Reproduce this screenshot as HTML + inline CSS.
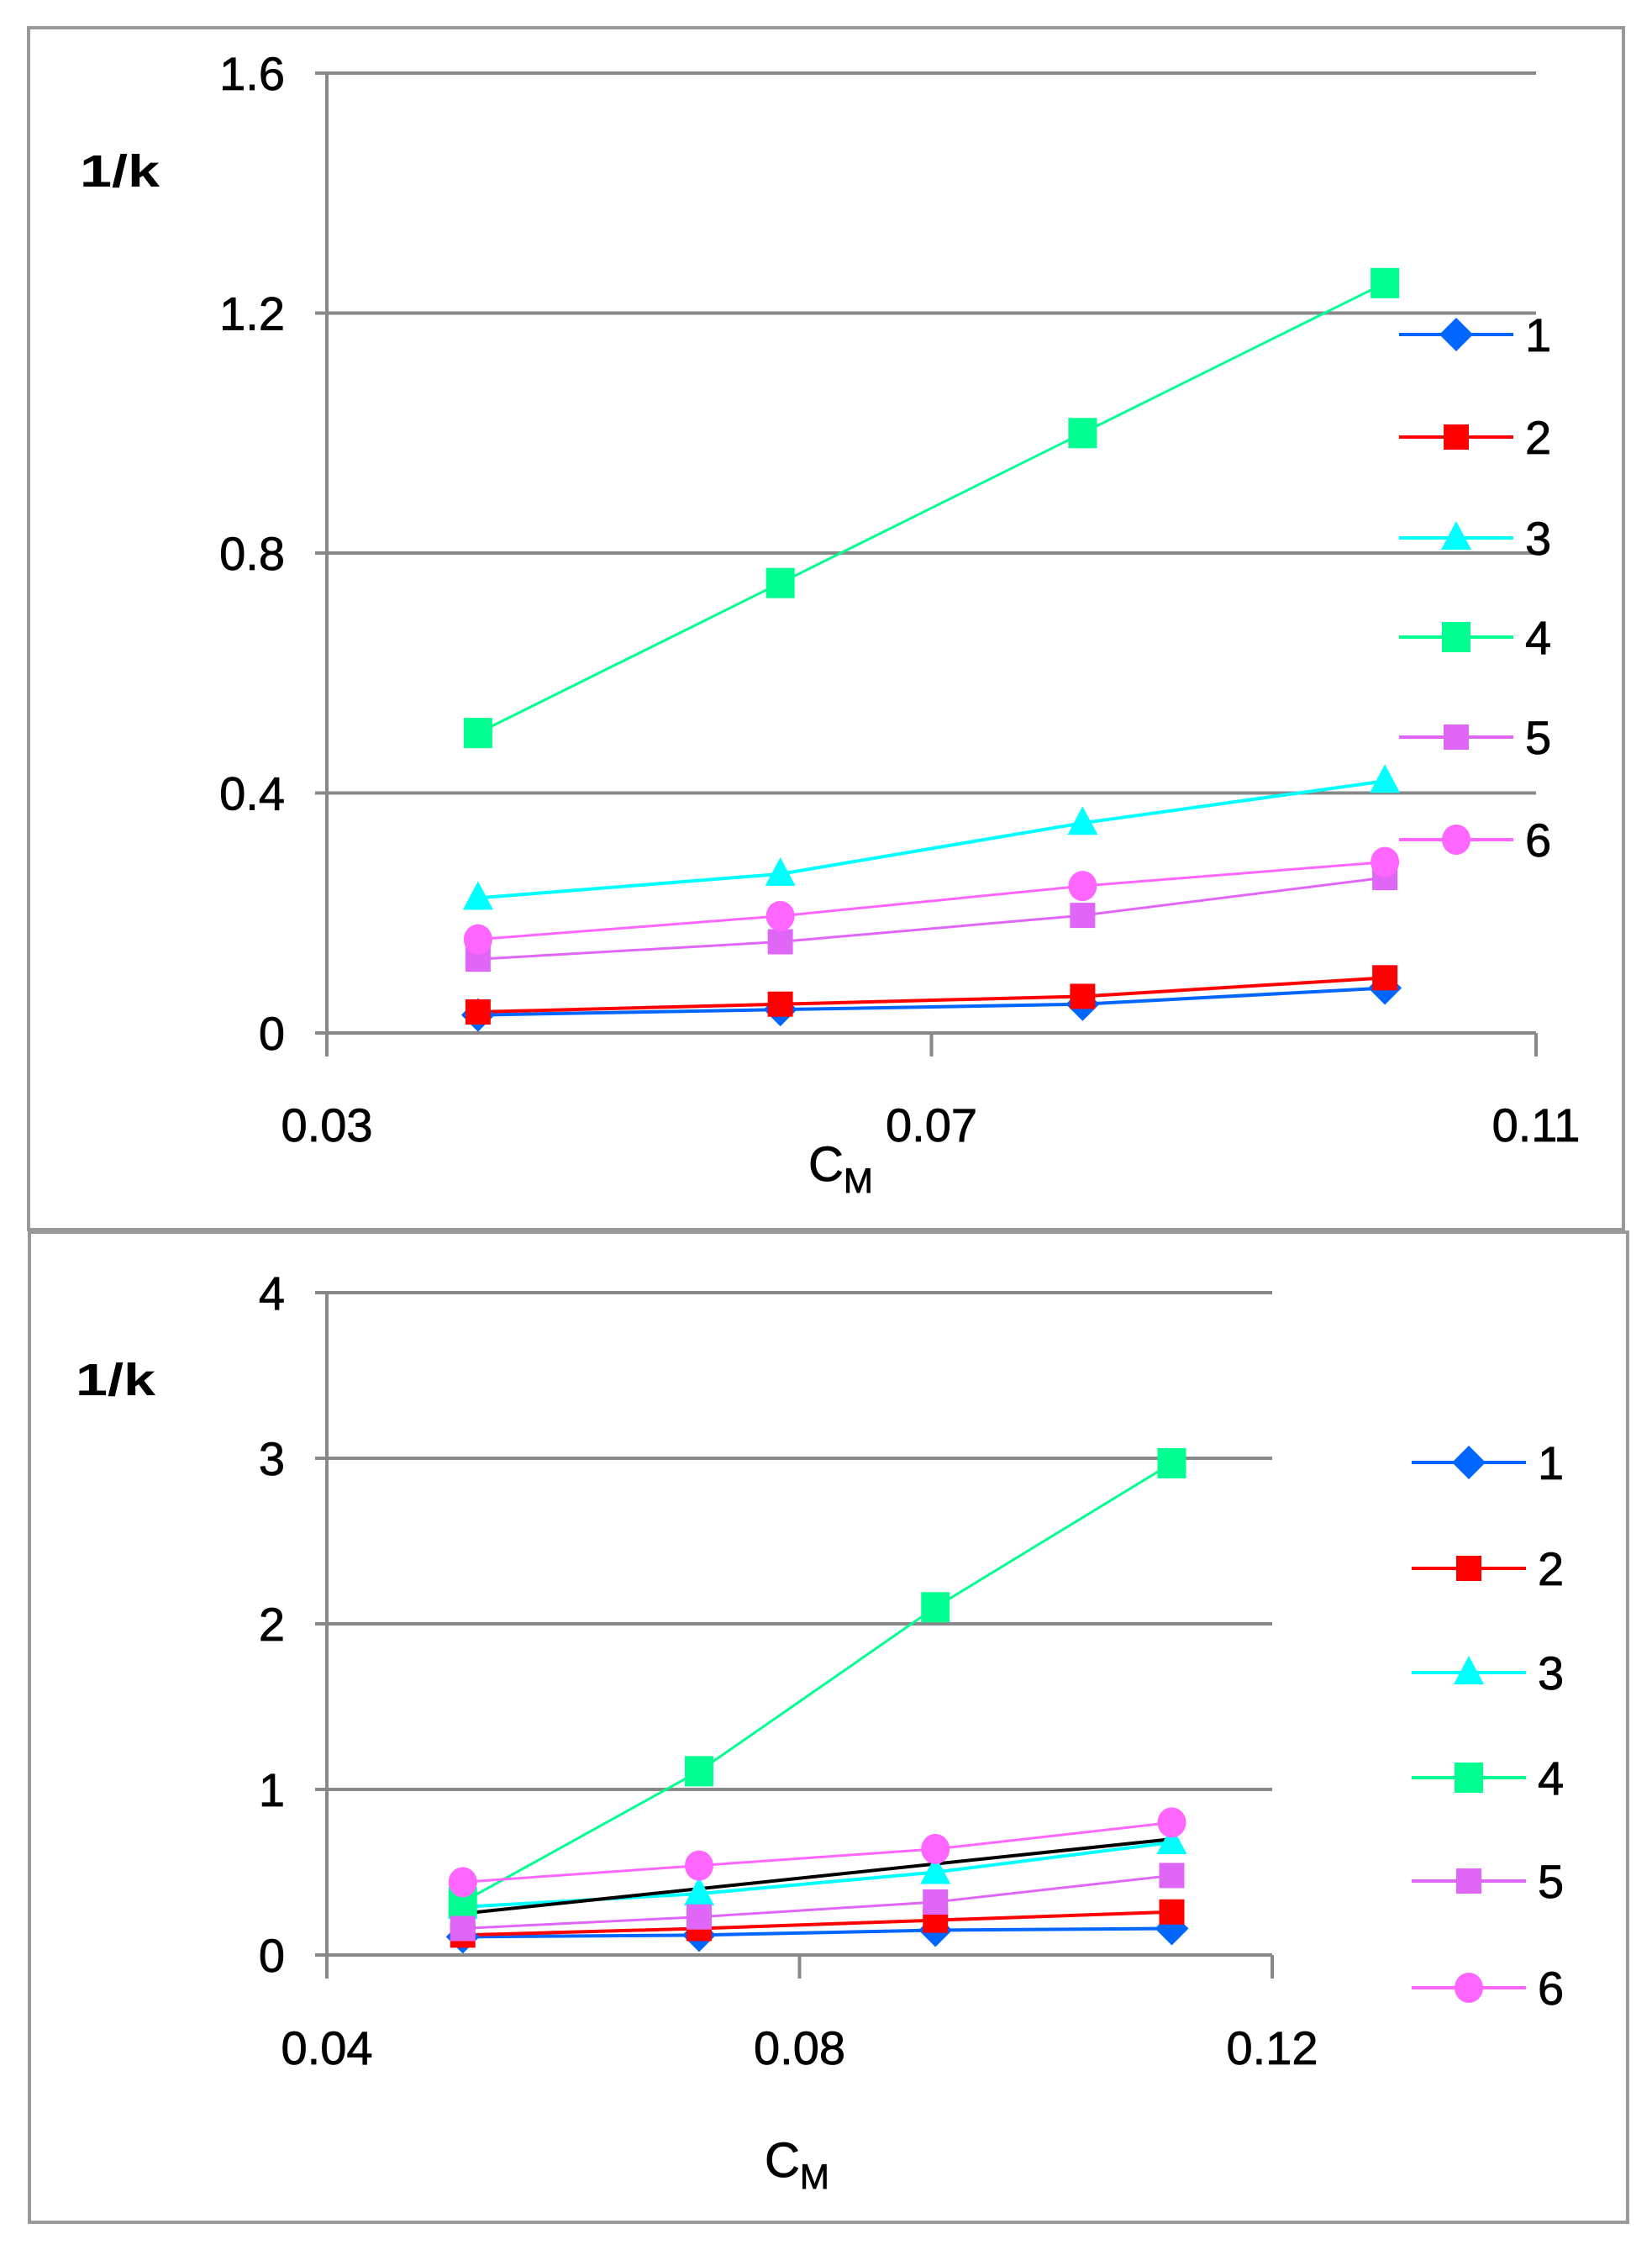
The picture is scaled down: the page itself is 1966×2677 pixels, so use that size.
<!DOCTYPE html>
<html><head><meta charset="utf-8">
<style>
html,body{margin:0;padding:0;background:#fff;}
svg{display:block;}
text{font-family:"Liberation Sans",sans-serif;fill:#000;}
</style></head>
<body>
<svg id="root" width="1966" height="2677" viewBox="0 0 1966 2677" xmlns="http://www.w3.org/2000/svg">
  <rect x="34" y="33" width="1898" height="1430" fill="#fff" stroke="#999" stroke-width="4"/>
  <rect x="35" y="1466" width="1902" height="1178" fill="#fff" stroke="#999" stroke-width="4"/>
  <g id="top"></g>
  <g id="bot"></g>
</svg>
<script>
// ---- Top chart data ----
const topX = [0.04, 0.06, 0.08, 0.10];
const topS1 = [0.030, 0.039, 0.048, 0.075];
const topS2 = [0.035, 0.048, 0.061, 0.092];
const topS3 = [0.225, 0.265, 0.350, 0.420];
const topS4 = [0.50, 0.75, 1.00, 1.25];
const topS5 = [0.123, 0.152, 0.196, 0.259];
const topS6 = [0.156, 0.195, 0.245, 0.285];
const topXTicks = [0.03, 0.07, 0.11];
const topXTickLabels = ["0.03", "0.07", "0.11"];
const topYTicks = [0, 0.4, 0.8, 1.2, 1.6];
const topYTickLabels = ["0", "0.4", "0.8", "1.2", "1.6"];
// ---- Bottom chart data ----
const botX = [0.0515, 0.0715, 0.0915, 0.1115];
const botS1 = [0.11, 0.12, 0.15, 0.16];
const botS2 = [0.12, 0.16, 0.21, 0.26];
const botS3 = [0.29, 0.37, 0.50, 0.68];
const botS4 = [0.32, 1.11, 2.10, 2.97];
const botS5 = [0.16, 0.23, 0.32, 0.48];
const botS6 = [0.44, 0.54, 0.64, 0.80];
const botTrend = [0.25, 0.70];
const botXTicks = [0.04, 0.08, 0.12];
const botXTickLabels = ["0.04", "0.08", "0.12"];
const botYTicks = [0, 1, 2, 3, 4];
const botYTickLabels = ["0", "1", "2", "3", "4"];
const seriesNames = ["1", "2", "3", "4", "5", "6"];

const NS = "http://www.w3.org/2000/svg";
function mk(tag, attrs, parent){
  const e = document.createElementNS(NS, tag);
  for (const k in attrs) e.setAttribute(k, attrs[k]);
  parent.appendChild(e);
  return e;
}
const styles = [
  {color:"#0066ff", marker:"diamond", w:4},
  {color:"#ff0000", marker:"square", w:4},
  {color:"#00ffff", marker:"triangle", w:4},
  {color:"#00ff90", marker:"bigsquare", w:3},
  {color:"#e066f8", marker:"square", w:3},
  {color:"#ff66ff", marker:"circle", w:3}
];
function marker(g, type, cx, cy, color){
  let m;
  if (type === "diamond") m = mk("polygon", {points:`${cx},${cy-20} ${cx+20},${cy} ${cx},${cy+20} ${cx-20},${cy}`, fill:color}, g);
  else if (type === "square") m = mk("rect", {x:cx-15, y:cy-15, width:30, height:30, fill:color}, g);
  else if (type === "bigsquare") m = mk("rect", {x:cx-17, y:cy-18, width:34, height:36, fill:color}, g);
  else if (type === "triangle") m = mk("polygon", {points:`${cx},${cy-20} ${cx+18},${cy+14} ${cx-18},${cy+14}`, fill:color}, g);
  else m = mk("ellipse", {cx:cx, cy:cy, rx:17, ry:18, fill:color}, g);
  return m;
}

function drawChart(cfg){
  const g = document.getElementById(cfg.id);
  const sx = v => cfg.x0 + (v - cfg.xmin) / (cfg.xmax - cfg.xmin) * (cfg.x1 - cfg.x0);
  const sy = v => cfg.y0 - (v - cfg.ymin) / (cfg.ymax - cfg.ymin) * (cfg.y0 - cfg.y1);
  cfg.yTicks.forEach((t, i) => {
    const y = sy(t);
    const gl = mk("line", {x1:cfg.x0-14, x2:cfg.x1, y1:y, y2:y, stroke:"#888", "stroke-width":4}, g);
    
    
    const tl = mk("text", {x:cfg.x0-50, y:y+20, "font-size":56, "text-anchor":"end", stroke:"#000", "stroke-width":0.8}, g);
    tl.textContent = cfg.yLabels[i];
    
    
  });
  const ya = mk("line", {x1:cfg.x0, x2:cfg.x0, y1:cfg.y1, y2:cfg.y0+28, stroke:"#888", "stroke-width":4}, g);
  
  
  cfg.xTicks.forEach((t, i) => {
    const x = sx(t);
    const tk = mk("line", {x1:x, x2:x, y1:cfg.y0, y2:cfg.y0+28, stroke:"#888", "stroke-width":4}, g);
    
    
    const tl = mk("text", {x:x, y:cfg.xLabelY, "font-size":56, "text-anchor":"middle", stroke:"#000", "stroke-width":0.8}, g);
    tl.textContent = cfg.xLabels[i];
    
    
  });
  const yt = mk("text", {x:cfg.yTitle[0], y:cfg.yTitle[1], "font-size":54, "font-weight":"bold", textLength:95, lengthAdjust:"spacingAndGlyphs"}, g);
  yt.textContent = "1/k";
  
  
  const xt = mk("text", {x:cfg.xTitle[0], y:cfg.xTitle[1], "font-size":58, stroke:"#000", "stroke-width":0.8}, g);
  
  
  const t1 = mk("tspan", {}, xt); t1.textContent = "C";
  const t2 = mk("tspan", {dy:14, "font-size":42}, xt); t2.textContent = "M";
  cfg.series.forEach((vals, si) => {
    const st = styles[si];
    const pts = vals.map((v, i) => `${sx(cfg.xs[i])},${sy(v)}`).join(" ");
    const pl = mk("polyline", {points:pts, fill:"none", stroke:st.color, "stroke-width":st.w}, g);
    
    
  });
  if (cfg.trend) {
    const tr = mk("line", {x1:sx(cfg.xs[0]), y1:sy(cfg.trend[0]), x2:sx(cfg.xs[cfg.xs.length-1]), y2:sy(cfg.trend[1]), stroke:"#000", "stroke-width":4}, g);
    
    
  }
  cfg.series.forEach((vals, si) => {
    const st = styles[si];
    vals.forEach((v, i) => {
      const m = marker(g, st.marker, sx(cfg.xs[i]), sy(v), st.color);
      
      
    });
  });
  cfg.legY.forEach((ly, si) => {
    const st = styles[si];
    const lg = mk("g", {}, g);
    
    
    mk("line", {x1:cfg.legX, x2:cfg.legX+136, y1:ly, y2:ly, stroke:st.color, "stroke-width":4}, lg);
    marker(lg, st.marker, cfg.legX+68, ly, st.color);
    const lt = mk("text", {x:cfg.legX+150, y:ly+20, "font-size":56, stroke:"#000", "stroke-width":0.8}, lg);
    lt.textContent = seriesNames[si];
  });
}

drawChart({id:"top", x0:389, x1:1828, y0:1229, y1:87, xmin:0.03, xmax:0.11, ymin:0, ymax:1.6,
  xs:topX, series:[topS1, topS2, topS3, topS4, topS5, topS6],
  xTicks:topXTicks, xLabels:topXTickLabels, yTicks:topYTicks, yLabels:topYTickLabels,
  xLabelY:1358, yTitle:[95,222], xTitle:[962,1405], legX:1665,
  legY:[398, 520, 640, 758, 877, 999]});
drawChart({id:"bot", x0:389, x1:1514, y0:2326, y1:1538, xmin:0.04, xmax:0.12, ymin:0, ymax:4,
  xs:botX, series:[botS1, botS2, botS3, botS4, botS5, botS6], trend:botTrend,
  xTicks:botXTicks, xLabels:botXTickLabels, yTicks:botYTicks, yLabels:botYTickLabels,
  xLabelY:2456, yTitle:[90,1660], xTitle:[910,2590], legX:1680,
  legY:[1740, 1866, 1990, 2115, 2238, 2365]});
</script>
</body></html>
